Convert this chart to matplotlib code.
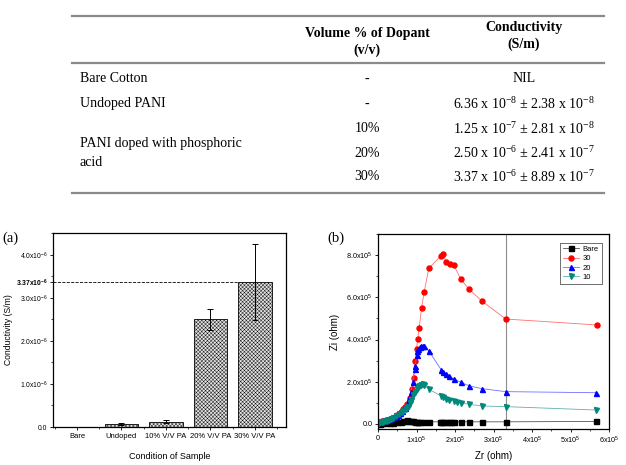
import numpy as np
import matplotlib
matplotlib.use('Agg')
import matplotlib.pyplot as plt
from matplotlib.lines import Line2D
from matplotlib.ticker import MultipleLocator, FixedLocator

# table / bar data
sample_names = ['Bare Cotton', 'Undoped PANI', 'PANI doped with phosphoric\nacid']
dopant = ['-', '-', '10%', '20%', '30%']
cond_mean = [0.0, 6.36e-8, 1.25e-7, 2.50e-6, 3.37e-6]
cond_err = [0.0, 2.38e-8, 2.81e-8, 2.41e-7, 8.89e-7]
bar_labels = ['Bare', 'Undoped', '10% V/V PA', '20% V/V PA', '30% V/V PA']

# impedance data (Zr, Zi in units of 1e5 ohm)
bare_zr = [0.05, 0.10, 0.20, 0.30, 0.40, 0.50, 0.60, 0.65, 0.70, 0.75, 0.80, 0.85, 0.90, 0.95, 1.00,
           1.05, 1.10, 1.20, 1.32, 1.60, 1.64, 1.70, 1.77, 1.85, 1.90, 1.97, 2.15, 2.36, 2.70, 3.32, 5.66]
bare_zi = [0.02, 0.03, 0.04, 0.05, 0.06, 0.08, 0.10, 0.13, 0.15, 0.17, 0.15, 0.13, 0.12, 0.11, 0.11,
           0.10, 0.10, 0.10, 0.10, 0.10, 0.10, 0.10, 0.10, 0.10, 0.10, 0.10, 0.10, 0.10, 0.10, 0.10, 0.12]
pa30_zr = [0.05, 0.10, 0.15, 0.20, 0.25, 0.30, 0.35, 0.40, 0.45, 0.50, 0.55, 0.60, 0.65, 0.70, 0.76,
           0.82, 0.88, 0.93, 0.97, 1.00, 1.03, 1.07, 1.13, 1.20, 1.32, 1.64, 1.70, 1.77, 1.87, 1.97,
           2.15, 2.36, 2.70, 3.32, 5.69]
pa30_zi = [0.10, 0.13, 0.15, 0.17, 0.19, 0.22, 0.25, 0.29, 0.34, 0.40, 0.48, 0.58, 0.70, 0.82, 0.95,
           1.25, 1.65, 2.20, 2.98, 3.55, 4.01, 4.56, 5.48, 6.26, 7.38, 7.97, 8.03, 7.67, 7.59, 7.53,
           6.86, 6.39, 5.82, 4.97, 4.69]
pa20_zr = [0.03, 0.06, 0.10, 0.14, 0.18, 0.23, 0.28, 0.33, 0.40, 0.46, 0.52, 0.57, 0.63, 0.70, 0.77,
           0.81, 0.85, 0.90, 0.95, 0.97, 1.00, 1.02, 1.05, 1.08, 1.12, 1.16, 1.20, 1.32, 1.64, 1.70,
           1.77, 1.85, 1.97, 2.15, 2.36, 2.70, 3.32, 5.66]
pa20_zi = [0.12, 0.14, 0.16, 0.18, 0.20, 0.22, 0.25, 0.28, 0.32, 0.37, 0.43, 0.50, 0.60, 0.75, 1.06,
           1.25, 1.50, 2.00, 2.59, 2.75, 3.27, 3.45, 3.55, 3.63, 3.68, 3.70, 3.68, 3.46, 2.57, 2.48,
           2.35, 2.26, 2.13, 1.97, 1.81, 1.67, 1.53, 1.48]
pa10_zr = [0.03, 0.06, 0.10, 0.14, 0.18, 0.23, 0.28, 0.33, 0.40, 0.48, 0.55, 0.62, 0.66, 0.72, 0.79,
           0.84, 0.87, 0.92, 0.96, 1.00, 1.03, 1.07, 1.12, 1.16, 1.20, 1.32, 1.64, 1.70, 1.77, 1.85,
           1.97, 2.05, 2.15, 2.36, 2.70, 3.32, 5.66]
pa10_zi = [0.05, 0.07, 0.09, 0.11, 0.13, 0.15, 0.18, 0.22, 0.28, 0.36, 0.45, 0.55, 0.60, 0.70, 0.80,
           1.00, 1.15, 1.35, 1.50, 1.65, 1.75, 1.82, 1.86, 1.87, 1.85, 1.64, 1.33, 1.26, 1.20, 1.14,
           1.09, 1.05, 1.01, 0.93, 0.85, 0.82, 0.66]

W, H = 626, 465
fig = plt.figure(figsize=(W / 100, H / 100), dpi=100)
serif = 'Liberation Serif'
sans = 'Liberation Sans'
plt.rcParams['hatch.linewidth'] = 0.3


def fx(x):
    return x / W


def fy(y):
    return 1 - y / H


def sci(v, nd=2):
    e = int(np.floor(np.log10(v)))
    m = v / 10 ** e
    return f'{m:.{nd}f} x 10$\\mathregular{{^{{{e}}}}}$'


# ---- table ----
for yl in (16, 63, 193):
    fig.add_artist(Line2D([fx(72), fx(604)], [fy(yl), fy(yl)], color='#8a8a8a', lw=1.6))

tkw = dict(family=serif, fontsize=10, va='center')
fig.text(fx(367), fy(34), 'Volume % of Dopant', ha='center', weight='bold', **tkw)
fig.text(fx(367), fy(50), '(v/v)', ha='center', weight='bold', **tkw)
fig.text(fx(524), fy(28), 'Conductivity', ha='center', weight='bold', **tkw)
fig.text(fx(524), fy(44), '(S/m)', ha='center', weight='bold', **tkw)

row_y = [79, 104, 129, 153, 177]
fig.text(fx(80), fy(row_y[0]), sample_names[0], ha='left', **tkw)
fig.text(fx(80), fy(row_y[1]), sample_names[1], ha='left', **tkw)
fig.text(fx(80), fy(row_y[3]), sample_names[2], ha='left', linespacing=1.6, **tkw)
for i in range(5):
    fig.text(fx(367), fy(row_y[i]), dopant[i], ha='center', **tkw)
    if cond_mean[i] == 0:
        s = 'NIL'
    else:
        s = sci(cond_mean[i]) + ' \u00b1 ' + sci(cond_err[i])
    fig.text(fx(524), fy(row_y[i]), s, ha='center', **tkw)

# ---- panel (a) ----
ax1 = fig.add_axes([fx(53), fy(427), 233 / W, 194 / H])
xpos = np.arange(1, 6)
ax1.bar(xpos, cond_mean, width=0.76, color='#e2e2e2', edgecolor='black', hatch='xxxxxxxxx', lw=0.6)
ax1.errorbar(xpos[1:], cond_mean[1:], yerr=cond_err[1:], fmt='none', ecolor='black',
             elinewidth=0.7, capsize=2, capthick=0.7)
ax1.set_xlim(0.46, 5.7)
ax1.set_ylim(0, 4.51e-6)
ax1.plot([0.46, xpos[4] - 0.38], [cond_mean[4], cond_mean[4]], color='black', ls='--', lw=0.6)

yt = [0, 1e-6, 2e-6, 3e-6, cond_mean[4], 4e-6]
ylab = ['0.0'] + [f'{v * 1e6:.1f}x10$\\mathregular{{^{{-6}}}}$' for v in yt[1:4]] + \
       [f'{cond_mean[4] * 1e6:.2f}x10$\\mathregular{{^{{-6}}}}$', '4.0x10$\\mathregular{^{-6}}$']
ax1.set_yticks(yt)
ax1.set_yticklabels(ylab, family=sans, fontsize=4.9)
ax1.get_yticklabels()[4].set_fontweight('bold')
ax1.yaxis.set_minor_locator(MultipleLocator(0.5e-6))
ax1.set_xticks(xpos)
ax1.set_xticklabels(bar_labels, family=sans, fontsize=5.5)
ax1.xaxis.set_minor_locator(FixedLocator(np.arange(0.5, 6.0, 1.0)))
ax1.set_xlabel('Condition of Sample', family=sans, fontsize=6.5, labelpad=9)
ax1.set_ylabel('Conductivity (S/m)', family=sans, fontsize=6.2)
ax1.yaxis.set_label_coords(-0.17, 0.5)

# ---- panel (b) ----
ax2 = fig.add_axes([fx(378), fy(429), 231 / W, 195 / H])
ax2.axvline(3.32e5, color='#8c8c8c', lw=0.8)
series = [
    (bare_zr, bare_zi, 'Bare', 's', 'black', '#555555'),
    (pa30_zr, pa30_zi, '30', 'o', '#ff0000', '#ff7070'),
    (pa20_zr, pa20_zi, '20', '^', '#0000ff', '#7070ff'),
    (pa10_zr, pa10_zi, '10', 'v', '#00897b', '#5fb3a8'),
]
for zr, zi, lab, mk, mc, lc in series:
    ax2.plot(np.array(zr) * 1e5, np.array(zi) * 1e5, color=lc, lw=0.6, marker=mk, ms=3.6,
             mfc=mc, mec=mc, label=lab)
ax2.set_xlim(0, 6e5)
ax2.set_ylim(-0.24e5, 9.0e5)
ax2.set_xticks(np.arange(0, 7) * 1e5)
ax2.set_xticklabels(['0'] + [f'{i}x10$\\mathregular{{^5}}$' for i in range(1, 7)], family=sans, fontsize=5.2)
ax2.xaxis.set_minor_locator(MultipleLocator(0.5e5))
ax2.set_yticks(np.arange(0, 5) * 2e5)
ax2.set_yticklabels(['0.0'] + [f'{v:.1f}x10$\\mathregular{{^5}}$' for v in (2, 4, 6, 8)], family=sans, fontsize=5.2)
ax2.yaxis.set_minor_locator(MultipleLocator(1e5))
ax2.set_xlabel('Zr (ohm)', family=sans, fontsize=7, labelpad=4)
ax2.set_ylabel('Zi (ohm)', family=sans, fontsize=7, labelpad=4)
leg = ax2.legend(loc='upper right', prop={'family': sans, 'size': 5.5}, frameon=True, fancybox=False,
                 handlelength=2.2, handletextpad=0.4, borderpad=0.4, labelspacing=0.25,
                 bbox_to_anchor=(0.985, 0.975))
leg.get_frame().set_edgecolor('black')
leg.get_frame().set_linewidth(0.5)

for ax in (ax1, ax2):
    for sp in ax.spines.values():
        sp.set_linewidth(0.9)
    ax.tick_params(which='major', direction='out', length=2.5, width=0.6, pad=1.5)
    ax.tick_params(which='minor', direction='out', length=1.5, width=0.5)

fig.text(fx(2), fy(238), '(a)', family=serif, fontsize=10.5, va='center')
fig.text(fx(327), fy(238), '(b)', family=serif, fontsize=10.5, va='center')

fig.savefig('out.png', dpi=100)
